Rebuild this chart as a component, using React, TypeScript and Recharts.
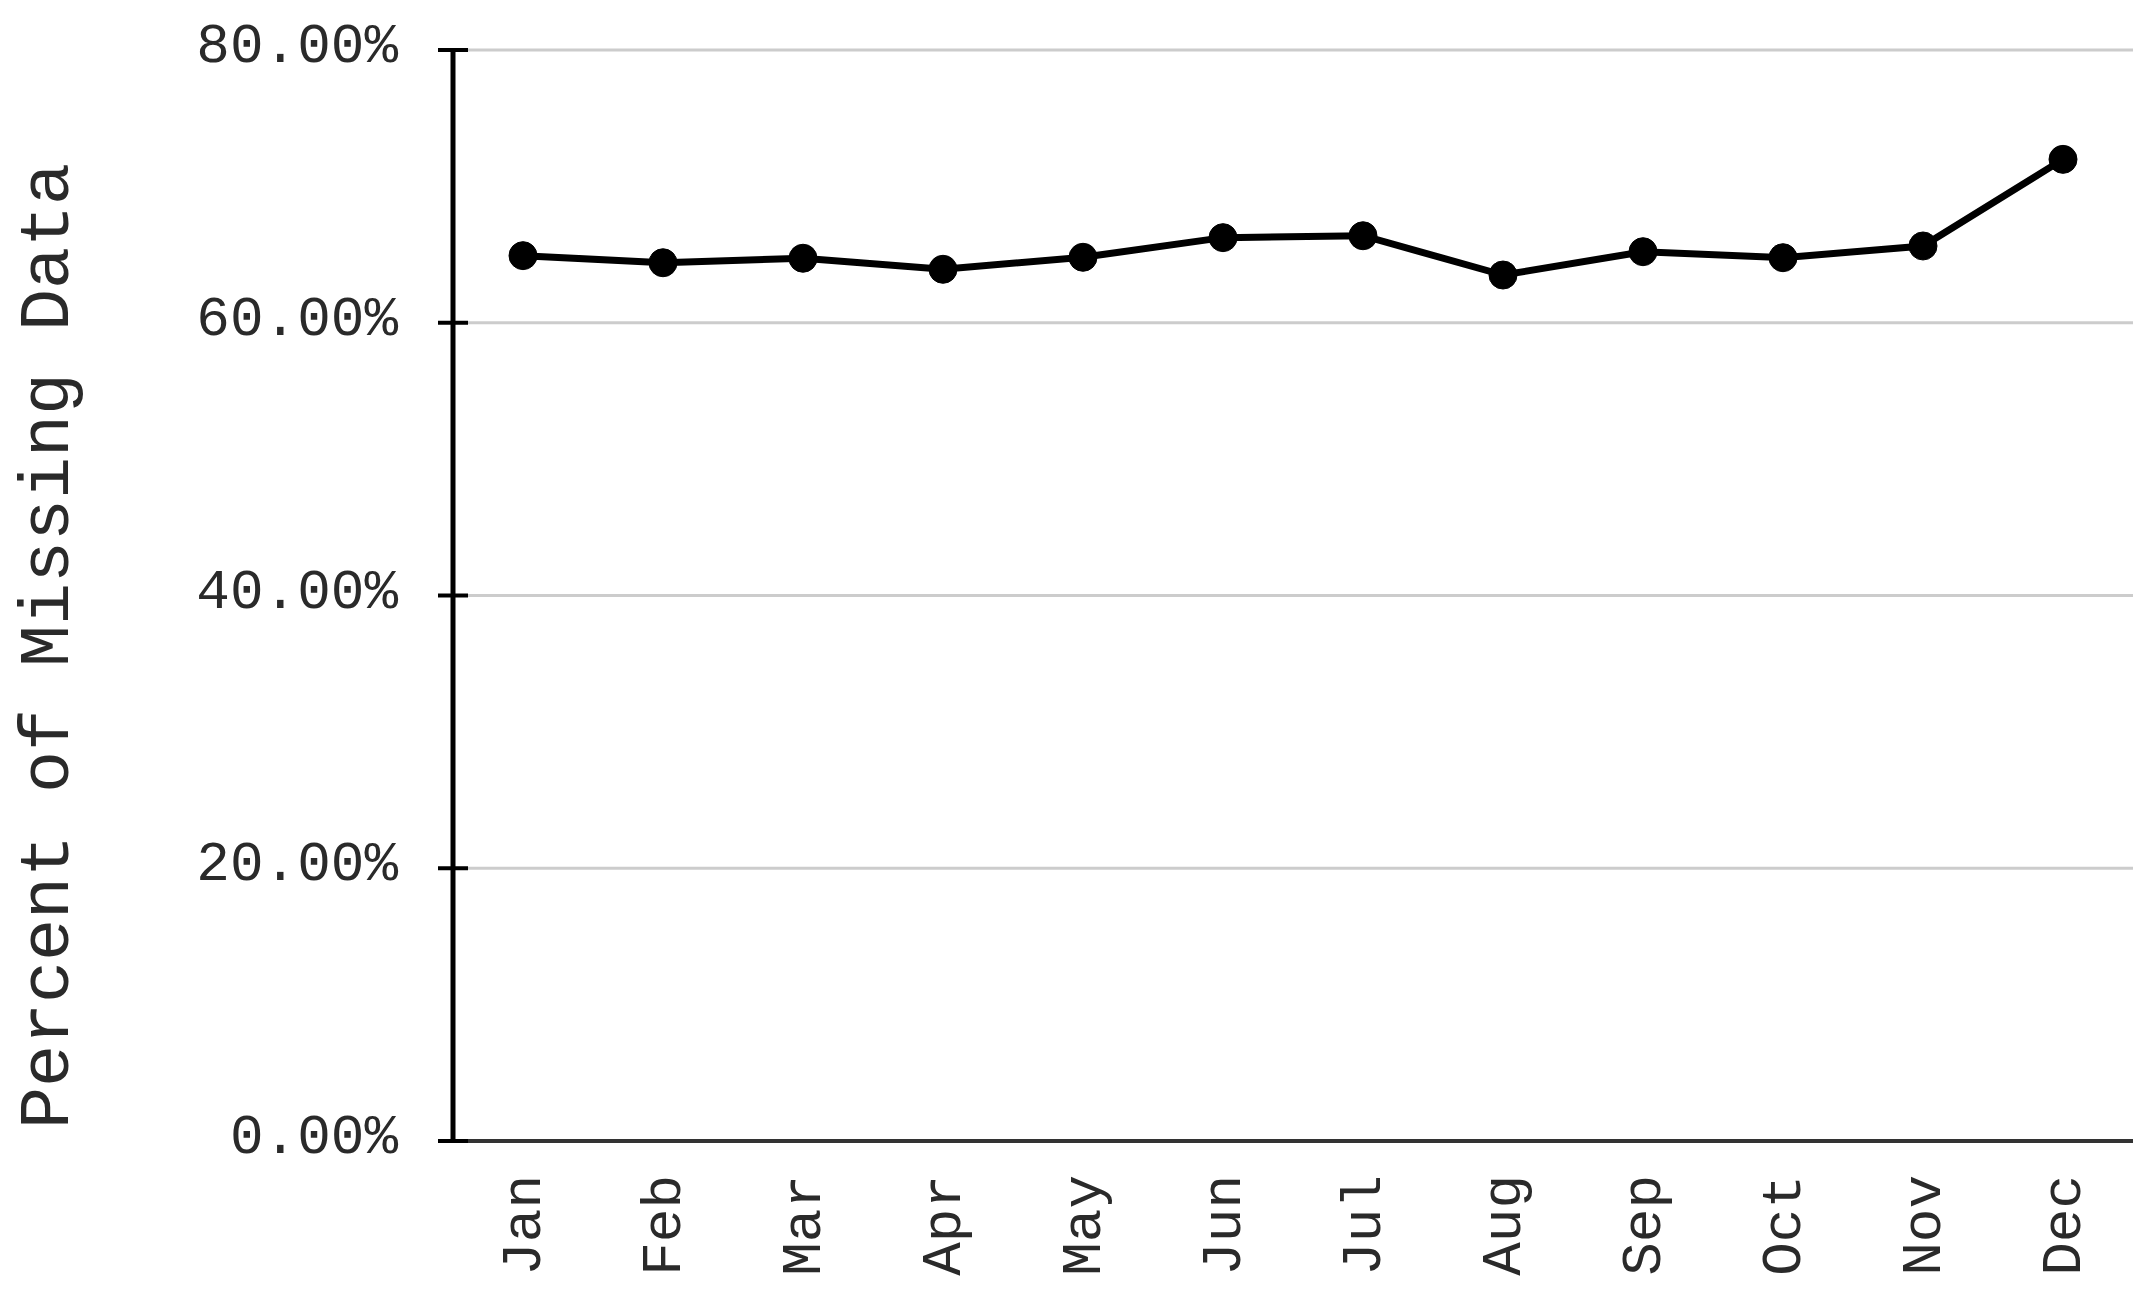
import { LineChart, Line, XAxis, YAxis, CartesianGrid, Label } from 'recharts'

document.body.style.margin = '0'

const months = ['Jan', 'Feb', 'Mar', 'Apr', 'May', 'Jun', 'Jul', 'Aug', 'Sep', 'Oct', 'Nov', 'Dec']
const missingPct = [64.92, 64.4, 64.73, 63.92, 64.8, 66.24, 66.38, 63.5, 65.21, 64.77, 65.63, 71.98]
const yTicks = [0, 20, 40, 60, 80]

const FONT = '"Courier New", "Liberation Mono", monospace'

const chartData = months.map((m, i) => ({ month: m, pct: missingPct[i] }))

// tick label plus the inner half of the tick mark (outer half comes from tickLine)
function YTick(props: any) {
  const { x, y, payload } = props
  const axisX = x + 40 + 15
  return (
    <g>
      <line x1={axisX} x2={axisX + 15} y1={y} y2={y} stroke="#000" strokeWidth={4} />
      <text x={x} y={y} dy={12} textAnchor="end" fontFamily={FONT} fontSize={56} fill="#2a2a2a">
        {payload.value.toFixed(2) + '%'}
      </text>
    </g>
  )
}

function XTick(props: any) {
  const { x, y, payload } = props
  return (
    <text
      x={x}
      y={y}
      dy={17}
      textAnchor="end"
      transform={`rotate(-90, ${x}, ${y})`}
      fontFamily={FONT}
      fontSize={56}
      fill="#2a2a2a"
    >
      {payload.value}
    </text>
  )
}

function YTitle(props: any) {
  const { viewBox } = props
  const cx = viewBox.x + 68
  const cy = 646
  return (
    <text
      x={cx}
      y={cy}
      textAnchor="middle"
      transform={`rotate(-90, ${cx}, ${cy})`}
      fontFamily={FONT}
      fontSize={70}
      fill="#2a2a2a"
    >
      Percent of Missing Data
    </text>
  )
}

export default function App() {
  return (
    <div style={{ width: 2155, height: 1293, background: '#fff' }}>
      <LineChart width={2155} height={1293} data={chartData} margin={{ top: 50, right: 22, bottom: 0, left: 0 }}>
        <CartesianGrid vertical={false} stroke="#cccccc" strokeWidth={3} />
        <XAxis
          dataKey="month"
          padding={{ left: 70, right: 70 }}
          axisLine={{ stroke: '#333', strokeWidth: 4 }}
          tickLine={false}
          tickSize={0}
          tickMargin={34}
          tick={<XTick />}
          interval={0}
          height={152}
        />
        <YAxis
          width={453}
          domain={[0, 80]}
          ticks={yTicks}
          axisLine={{ stroke: '#000', strokeWidth: 5 }}
          tickLine={{ stroke: '#000', strokeWidth: 4 }}
          tickSize={15}
          tickMargin={40}
          tick={<YTick />}
          interval={0}
        >
          <Label content={<YTitle />} />
        </YAxis>
        <Line
          type="linear"
          dataKey="pct"
          stroke="#000"
          strokeWidth={7}
          dot={{ r: 14, fill: '#000', stroke: '#000', strokeWidth: 1 }}
          activeDot={false}
          isAnimationActive={false}
        />
      </LineChart>
    </div>
  )
}
